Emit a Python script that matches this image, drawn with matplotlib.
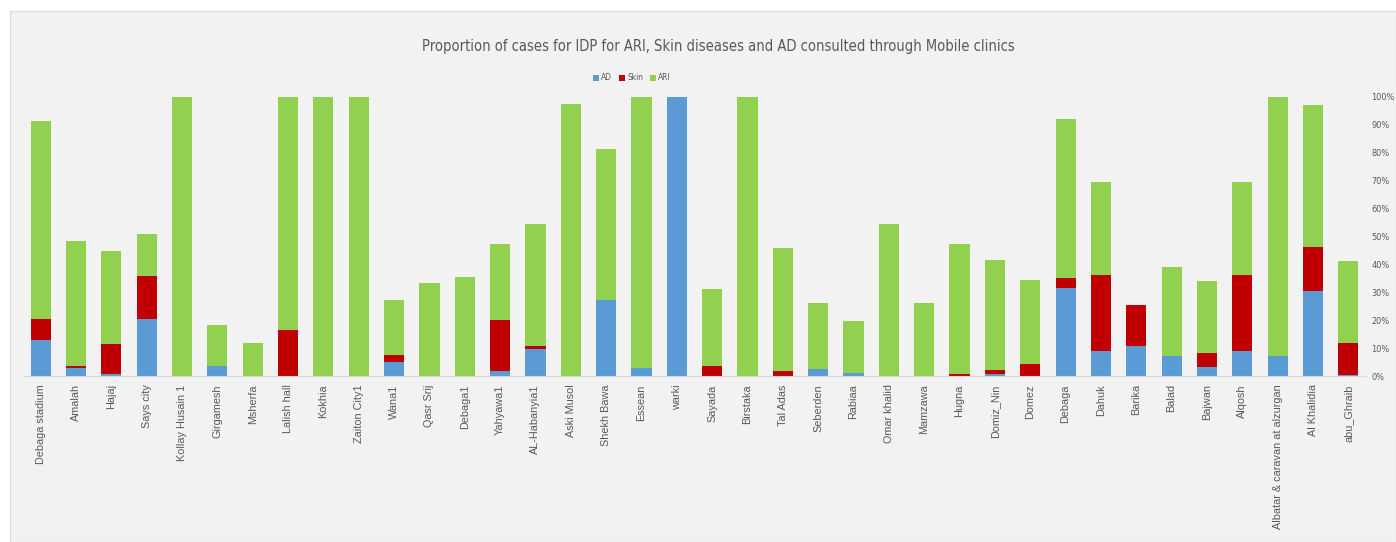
import matplotlib.pyplot as plt
import matplotlib.patches as mpatches
import numpy as np

# Dados (percentagens)
locais = ["Debaga stadium", "Amalah", "Hajaj", "Says city", "Kollay Husain 1",
          "Girgamesh", "Msherfa", "Lalish hall", "Kokhia", "Zaiton City1",
          "Wana1", "Qasr Srij", "Debaga1", "Yahyawa1", "AL-Habanyia1",
          "Aski Musol", "Shekh Bawa", "Essean", "warki", "Sayada", "Birstaka",
          "Tal Adas", "Seberden", "Rabiaa", "Omar khalid", "Mamzawa", "Hugna",
          "Domiz_Nin", "Domez", "Debaga", "Dahuk", "Barika", "Balad", "Bajwan",
          "Alqosh", "Albatar & caravan at alzurgan", "Al Khalidia", "abu_Ghraib"]

ad = [12.8, 3.0, 0.8, 20.6, 0, 3.6, 0, 0, 0, 0,
      5.0, 0, 0, 1.8, 9.7, 0, 27.2, 3.0, 100, 0, 0,
      0, 2.6, 1.1, 0, 0, 0, 0.8, 0, 31.4, 9.0, 10.8, 7.1, 3.2,
      9.0, 7.3, 30.5, 0.3]

skin = [7.8, 0.6, 10.8, 15.2, 0, 0, 0, 16.4, 0, 0,
        2.4, 0, 0, 18.4, 1.2, 0, 0, 0, 0, 3.6, 0,
        1.7, 0, 0, 0, 0, 0.8, 1.5, 4.2, 3.6, 27.2, 14.8, 0, 5.1,
        27.2, 0, 15.8, 11.7]

ari = [70.7, 44.8, 33.3, 15.0, 100, 14.6, 11.9, 83.6, 100, 100,
       19.8, 33.4, 35.6, 27.1, 43.5, 97.6, 54.2, 97.0, 0, 27.7, 100,
       44.0, 23.4, 18.7, 54.4, 26.3, 46.5, 39.1, 30.2, 57.1, 33.3, 0, 32.1, 25.8,
       33.3, 92.7, 50.9, 29.2]

cor_ad = '#5b9bd5'
cor_skin = '#c00000'
cor_ari = '#92d050'
cinza = '#595959'

fig = plt.figure(figsize=(13.96, 5.42), dpi=100)
fig.patch.set_facecolor('white')

# Fundo cinza da área do gráfico
fundo = mpatches.Rectangle((10 / 1396, 0), 1 - 10 / 1396, 1 - 11 / 542,
                           transform=fig.transFigure, facecolor='#f2f2f2',
                           edgecolor='#d9d9d9', linewidth=0.8, zorder=-10)
fig.patches.append(fundo)

ax = fig.add_axes([23 / 1396, 1 - 376 / 542, (1366 - 23) / 1396, (376 - 97) / 542])
ax.set_facecolor('none')

x = np.arange(len(locais))
ad_arr = np.array(ad)
skin_arr = np.array(skin)
ari_arr = np.array(ari)

largura = 0.57
ax.bar(x, ad_arr, largura, color=cor_ad, label='AD')
ax.bar(x, skin_arr, largura, bottom=ad_arr, color=cor_skin, label='Skin')
ax.bar(x, ari_arr, largura, bottom=ad_arr + skin_arr, color=cor_ari, label='ARI')

ax.set_xlim(-0.5, len(locais) - 0.5)
ax.set_ylim(0, 100)

# Eixo y à direita, sem marcas
ax.yaxis.tick_right()
ax.set_yticks(np.arange(0, 101, 10))
ax.set_yticklabels([f'{v}%' for v in range(0, 101, 10)],
                   fontsize=6.6, color=cinza, stretch='condensed')
ax.tick_params(axis='y', length=0, pad=4)

ax.set_xticks(x)
ax.set_xticklabels(locais, rotation=90, fontsize=7.8, color=cinza,
                   family=['Liberation Sans', 'DejaVu Sans'])
ax.tick_params(axis='x', length=0, pad=6)

for lado in ['top', 'left', 'right']:
    ax.spines[lado].set_visible(False)
ax.spines['bottom'].set_color('#d9d9d9')
ax.spines['bottom'].set_linewidth(0.8)

# Título
fig.text(718 / 1396, 1 - 47 / 542,
         'Proportion of cases for IDP for ARI, Skin diseases and AD consulted through Mobile clinics',
         ha='center', va='center', fontsize=10.5, color=cinza, stretch='condensed')

# Legenda
fig.legend(loc='center', bbox_to_anchor=(632 / 1396, 1 - 78 / 542), ncol=3,
           frameon=False, handlelength=0.7, handleheight=0.7,
           handletextpad=0.3, columnspacing=0.8, labelcolor=cinza,
           prop={'size': 6, 'stretch': 'condensed'})

plt.savefig('out.png', dpi=100)
